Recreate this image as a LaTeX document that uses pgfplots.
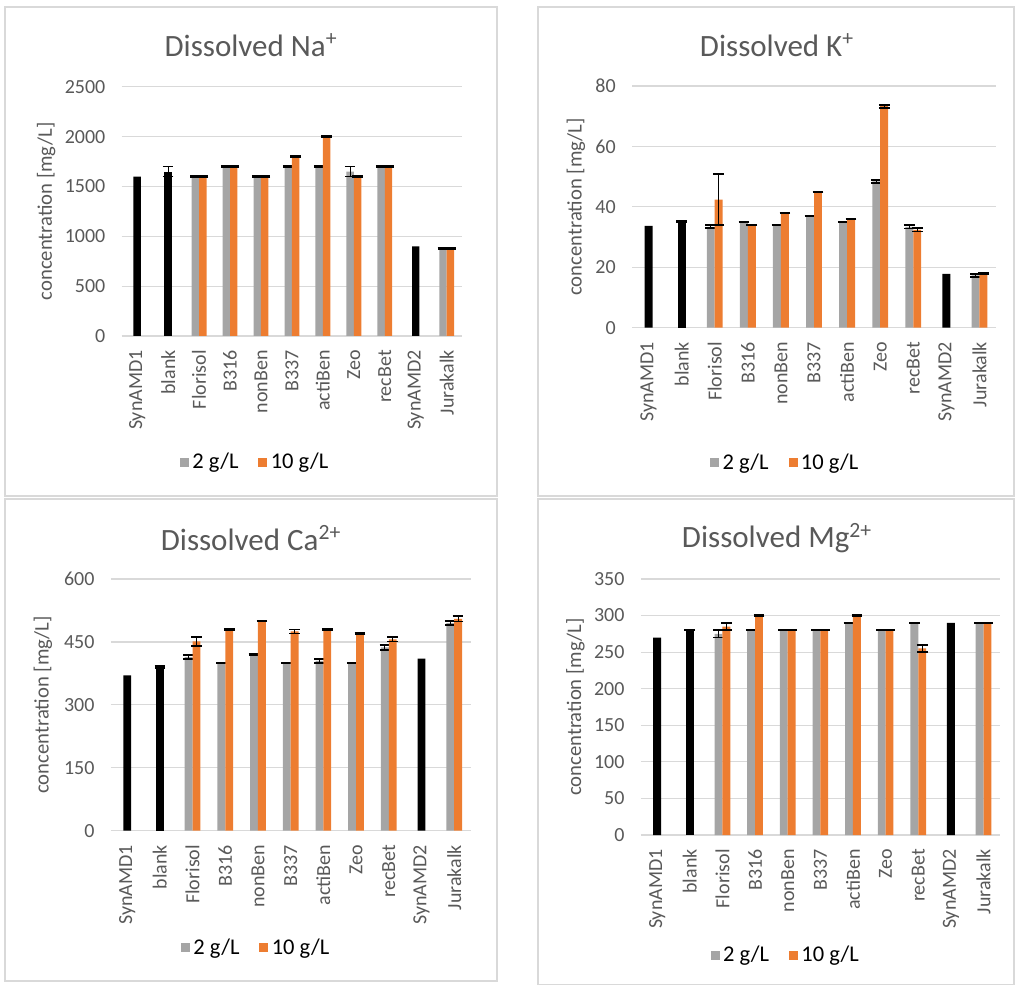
\documentclass[border=0pt]{standalone}
\usepackage{fontspec}
\setmainfont{Carlito}
\usepackage{pgfplots}
\pgfplotsset{compat=1.18}
\definecolor{txtgray}{HTML}{595959}
\definecolor{gridgray}{HTML}{D9D9D9}
\definecolor{bargray}{HTML}{A5A5A5}
\definecolor{barorange}{HTML}{ED7D31}
\pgfplotsset{
  panel/.style={
    scale only axis,
    anchor=south west,
    xmin=-0.5, xmax=10.5, ymin=0,
    xtick={0,...,10},
    xticklabels={SynAMD1,blank,Florisol,B316,nonBen,B337,actiBen,Zeo,recBet,SynAMD2,Jurakalk},
    axis line style={draw=none},
    major tick length=0pt,
    ymajorgrids,
    grid style={draw=gridgray, line width=0.7pt},
    /pgf/number format/assume math mode=true,
    /pgf/number format/1000 sep={},
    ticklabel style={font=\fontsize{12}{14}\selectfont, text=txtgray},
    xticklabel style={rotate=90, anchor=east, inner sep=0pt},
    yticklabel style={anchor=east, inner sep=0pt},
    xticklabel shift=8.4pt,
    yticklabel shift=9.6pt,
    ylabel={concentration [mg/L]},
    ylabel style={font=\fontsize{12.4}{14}\selectfont, text=txtgray, anchor=center},
    ybar, bar width=0.24,
    legend columns=2,
    legend style={draw=none, fill=none, font=\fontsize{13.5}{15}\selectfont, anchor=center,
      inner sep=0pt, /tikz/every even column/.append style={column sep=10pt}},
    legend image code/.code={\fill[#1] (0pt,-2.7pt) rectangle (5.4pt,2.7pt);},
    error bars/y explicit,
    error bars/error bar style={black, line width=0.6pt},
    error bars/error mark options={black, mark size=3.2pt, line width=1pt, rotate=90},
  },
  eb/.style={error bars/y dir=both},
  blk/.style={fill=black, draw=none, bar shift=0, forget plot},
  gry/.style={fill=bargray, draw=none, bar shift=-0.12, eb},
  org/.style={fill=barorange, draw=none, bar shift=0.12, eb},
}
\begin{document}
\begin{tikzpicture}
\path (0pt,0pt) rectangle (609pt,591pt);
\begin{scope}[draw=gridgray, line width=0.7pt]
\draw (3pt,293.4pt) rectangle (298.2pt,586.8pt);
\draw (322.8pt,293.4pt) rectangle (608.4pt,586.8pt);
\draw (3pt,2.4pt) rectangle (298.2pt,291.6pt);
\draw (322.8pt,0.3pt) rectangle (608.4pt,291.6pt);
\end{scope}
% ---------------- Na ----------------
\begin{axis}[panel, at={(73.02pt,389.4pt)}, width=204.3pt, height=149.5pt,
  ymax=2500, ytick={0,500,...,2500},
  ylabel style={at={(axis description cs:-0.222,0.5)}},
  legend style={at={(axis description cs:0.394,-0.506)}}]
\addplot+[blk] coordinates {(0,1600) (9,900)};
\addplot+[blk, eb] coordinates {(1,1650) +- (0,50)};
\addplot+[gry] coordinates {(2,1600) +- (0,5) (3,1700) +- (0,5) (4,1600) +- (0,5) (5,1700) +- (0,5) (6,1700) +- (0,5) (7,1650) +- (0,50) (8,1700) +- (0,5) (10,880) +- (0,5)};
\addplot+[org] coordinates {(2,1600) +- (0,5) (3,1700) +- (0,5) (4,1600) +- (0,5) (5,1800) +- (0,5) (6,2000) +- (0,5) (7,1600) +- (0,5) (8,1700) +- (0,5) (10,880) +- (0,5)};
\legend{2 g/L, 10 g/L}
\end{axis}
% ---------------- K ----------------
\begin{axis}[panel, at={(379.2pt,394.4pt)}, width=218.4pt, height=145.0pt,
  ymax=80, ytick={0,20,...,80},
  ylabel style={at={(axis description cs:-0.154,0.5)}},
  legend style={at={(axis description cs:0.423,-0.560)}}]
\addplot+[blk] coordinates {(0,33.7) (9,17.8)};
\addplot+[blk, eb] coordinates {(1,35) +- (0,0.2)};
\addplot+[gry] coordinates {(2,33.4) +- (0,0.5) (3,35) +- (0,0.1) (4,34) +- (0,0.1) (5,37) +- (0,0.1) (6,35) +- (0,0.1) (7,48.4) +- (0,0.5) (8,33.4) +- (0,0.6) (10,17.3) +- (0,0.5)};
\addplot+[org] coordinates {(2,42.4) +- (0,8.5) (3,34) +- (0,0.1) (4,38) +- (0,0.1) (5,45) +- (0,0.1) (6,36) +- (0,0.1) (7,73.3) +- (0,0.5) (8,32.4) +- (0,0.6) (10,17.9) +- (0,0.2)};
\legend{2 g/L, 10 g/L}
\end{axis}
% ---------------- Ca ----------------
\begin{axis}[panel, at={(66.5pt,92.6pt)}, width=215.8pt, height=151.0pt,
  ymax=600, ytick={0,150,...,600},
  ylabel style={at={(axis description cs:-0.1885,0.5)}},
  legend style={at={(axis description cs:0.406,-0.466)}}]
\addplot+[blk] coordinates {(0,370) (9,410)};
\addplot+[blk, eb] coordinates {(1,390) +- (0,2)};
\addplot+[gry] coordinates {(2,414) +- (0,5) (3,400) +- (0,1) (4,420) +- (0,1) (5,400) +- (0,1) (6,405) +- (0,5) (7,400) +- (0,1) (8,437) +- (0,6) (10,495) +- (0,5)};
\addplot+[org] coordinates {(2,451) +- (0,10) (3,480) +- (0,1) (4,500) +- (0,1) (5,475) +- (0,5) (6,480) +- (0,1) (7,470) +- (0,1) (8,456) +- (0,5) (10,505) +- (0,6)};
\legend{2 g/L, 10 g/L}
\end{axis}
% ---------------- Mg ----------------
\begin{axis}[panel, at={(384.5pt,90pt)}, width=215.4pt, height=153.6pt,
  ymax=350, ytick={0,50,...,350},
  ylabel style={at={(axis description cs:-0.182,0.5)}},
  legend style={at={(axis description cs:0.4056,-0.469)}}]
\addplot+[blk] coordinates {(0,270) (9,290)};
\addplot+[blk, eb] coordinates {(1,280) +- (0,0.5)};
\addplot+[gry] coordinates {(2,275) +- (0,5) (3,280) +- (0,0.5) (4,280) +- (0,0.5) (5,280) +- (0,0.5) (6,290) +- (0,0.5) (7,280) +- (0,0.5) (8,290) +- (0,0.5) (10,290) +- (0,0.5)};
\addplot+[org] coordinates {(2,285) +- (0,5) (3,300) +- (0,0.5) (4,280) +- (0,0.5) (5,280) +- (0,0.5) (6,300) +- (0,0.5) (7,280) +- (0,0.5) (8,255) +- (0,5) (10,290) +- (0,0.5)};
\legend{2 g/L, 10 g/L}
\end{axis}
% titles
\node[text=txtgray, font=\fontsize{18.6}{20}\selectfont] at (150.6pt,564pt) {Dissolved Na\textsuperscript{+}};
\node[text=txtgray, font=\fontsize{18.6}{20}\selectfont] at (466.2pt,564pt) {Dissolved K\textsuperscript{+}};
\node[text=txtgray, font=\fontsize{18.6}{20}\selectfont] at (150.6pt,268.2pt) {Dissolved Ca\textsuperscript{2+}};
\node[text=txtgray, font=\fontsize{18.6}{20}\selectfont] at (466.2pt,268.2pt) {Dissolved Mg\textsuperscript{2+}};
\end{tikzpicture}
\end{document}
